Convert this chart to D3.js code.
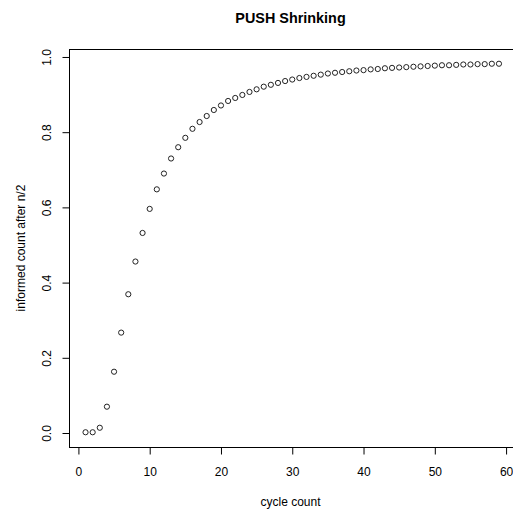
<!DOCTYPE html>
<html lang="en">
	<head>
		<meta charset="utf-8">
		<title>PUSH Shrinking</title>
		<style>
			body { margin: 0; background: #fff; }
			#graph text { font-family: "Liberation Sans", Arial, sans-serif; fill: #000; }
			#graph .pt { fill: none; stroke: #222; stroke-width: 1; }
		</style>
	</head>
	<body>
		<svg id="graph" width="513" height="511"></svg>
		<script src="https://d3js.org/d3.v7.min.js"></script>
		<script>
			"use strict";

			// cycle numbers 1..59
			var cycles = [
				1, 2, 3, 4, 5, 6, 7, 8, 9, 10,
				11, 12, 13, 14, 15, 16, 17, 18, 19, 20,
				21, 22, 23, 24, 25, 26, 27, 28, 29, 30,
				31, 32, 33, 34, 35, 36, 37, 38, 39, 40,
				41, 42, 43, 44, 45, 46, 47, 48, 49, 50,
				51, 52, 53, 54, 55, 56, 57, 58, 59
			];
			// informed count after n/2 (fraction)
			var informed = [
				0.002, 0.002, 0.014, 0.070, 0.163, 0.267, 0.369, 0.456, 0.532, 0.596,
				0.648, 0.690, 0.730, 0.760, 0.785, 0.809, 0.827, 0.843, 0.859, 0.871,
				0.883, 0.891, 0.899, 0.907, 0.914, 0.921, 0.926, 0.931, 0.936, 0.940,
				0.944, 0.947, 0.950, 0.953, 0.956, 0.958, 0.960, 0.962, 0.964, 0.965,
				0.967, 0.968, 0.970, 0.971, 0.972, 0.973, 0.974, 0.975, 0.976, 0.977,
				0.978, 0.978, 0.979, 0.980, 0.980, 0.981, 0.981, 0.982, 0.982
			];
			var xTicks = [0, 10, 20, 30, 40, 50, 60];
			var yTicks = [0, 0.2, 0.4, 0.6, 0.8, 1.0];

			var svg = d3.select("#graph");
			var mLeft = 69, mRight = 515.5, mTop = 49, mBottom = 447;

			// R style 4% padding around the data range
			var xr = d3.extent(cycles), yr = d3.extent(informed);
			var xpad = (xr[1] - xr[0]) * 0.04, ypad = (yr[1] - yr[0]) * 0.04;

			var x = d3.scaleLinear()
				.domain([xr[0] - xpad, xr[1] + xpad])
				.range([mLeft, mRight]);
			var y = d3.scaleLinear()
				.domain([yr[0] - ypad, yr[1] + ypad])
				.range([mBottom, mTop]);

			// box
			svg.append("rect")
				.attr("x", mLeft + 0.5)
				.attr("y", mTop + 0.5)
				.attr("width", mRight - mLeft)
				.attr("height", mBottom - mTop)
				.attr("fill", "none")
				.attr("stroke", "#000")
				.attr("stroke-width", 1);

			// x axis
			var gx = svg.append("g")
				.attr("transform", "translate(0," + (mBottom + 0.5) + ")")
				.call(d3.axisBottom(x).tickValues(xTicks).tickSize(7).tickPadding(13).tickFormat(d3.format("d")));
			gx.select(".domain").remove();
			gx.selectAll("text").style("font-size", "12px");

			// y axis
			var gy = svg.append("g")
				.attr("transform", "translate(" + (mLeft + 0.5) + ",0)")
				.call(d3.axisLeft(y).tickValues(yTicks).tickSize(7).tickFormat(d3.format(".1f")));
			gy.select(".domain").remove();
			gy.selectAll(".tick text")
				.attr("x", null)
				.attr("dy", null)
				.attr("text-anchor", "middle")
				.attr("transform", "translate(-19,0) rotate(-90)")
				.style("font-size", "12px");

			// points
			svg.selectAll("circle.pt")
				.data(cycles)
				.enter()
				.append("circle")
				.attr("class", "pt")
				.attr("cx", function(d, i){ return x(d); })
				.attr("cy", function(d, i){ return y(informed[i]); })
				.attr("r", 2.6);

			// titles
			svg.append("text")
				.attr("x", (mLeft + 512) / 2)
				.attr("y", 23)
				.attr("text-anchor", "middle")
				.style("font-size", "14.4px")
				.style("font-weight", "bold")
				.text("PUSH Shrinking");

			svg.append("text")
				.attr("x", (mLeft + 512) / 2)
				.attr("y", 506)
				.attr("text-anchor", "middle")
				.style("font-size", "12px")
				.text("cycle count");

			svg.append("text")
				.attr("transform", "translate(25," + ((mTop + mBottom) / 2) + ") rotate(-90)")
				.attr("text-anchor", "middle")
				.style("font-size", "12px")
				.text("informed count after n/2");
		</script>
	</body>
</html>
